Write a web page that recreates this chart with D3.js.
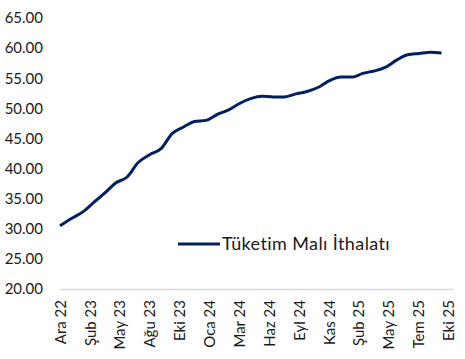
<!DOCTYPE html>
<html>
<head>
<meta charset="utf-8">
<script src="https://cdn.jsdelivr.net/npm/d3@7"></script>
<style>
  body { margin: 0; background: #fff; }
  text { font-family: Lato, "Open Sans", sans-serif; fill: #1a1a1a; }
</style>
</head>
<body>
<svg id="chart"></svg>
<script>
var width = 465,
    height = 359;

// Monthly series, Ara 22 .. Eki 25
var months = [
  'Ara 22', 'Oca 23', 'Şub 23', 'Mar 23', 'Nis 23', 'May 23', 'Haz 23', 'Tem 23', 'Ağu 23', 'Eyl 23',
  'Eki 23', 'Kas 23', 'Ara 23', 'Oca 24', 'Şub 24', 'Mar 24', 'Nis 24', 'May 24', 'Haz 24', 'Tem 24',
  'Ağu 24', 'Eyl 24', 'Eki 24', 'Kas 24', 'Ara 24', 'Oca 25', 'Şub 25', 'Mar 25', 'Nis 25', 'May 25',
  'Haz 25', 'Tem 25', 'Ağu 25', 'Eyl 25', 'Eki 25'
];
var values = [
  30.5, 31.7, 32.8, 34.3, 35.9, 37.6, 38.6, 41.0, 42.3, 43.3,
  45.8, 46.9, 47.8, 48.0, 49.0, 49.7, 50.8, 51.6, 52.0, 51.9,
  51.9, 52.4, 52.8, 53.5, 54.6, 55.2, 55.2, 55.8, 56.2, 56.8,
  58.0, 58.9, 59.1, 59.3, 59.2
];
var tickLabels = [
  'Ara 22', 'Şub 23', 'May 23', 'Ağu 23', 'Eki 23', 'Oca 24', 'Mar 24',
  'Haz 24', 'Eyl 24', 'Kas 24', 'Şub 25', 'May 25', 'Tem 25', 'Eki 25'
];
var yTicks = [20, 25, 30, 35, 40, 45, 50, 55, 60, 65];
var seriesName = 'Tüketim Malı İthalatı';

var start = new Date(Date.UTC(2022, 11, 1));
var data = values.map(function (v, i) {
  return { date: d3.utcMonth.offset(start, i), value: v, label: months[i] };
});

var svg = d3.select('#chart')
    .attr('width', width)
    .attr('height', height);

var x = d3.scaleUtc()
    .domain([start, d3.utcMonth.offset(start, months.length)])
    .range([60, 453]);

var y = d3.scaleLinear()
    .domain([20, 65])
    .range([289, 18]);

// Excel date axis: a label every 81 days
var tickDates = tickLabels.map(function (d, i) { return d3.utcDay.offset(start, i * 81); });

// Y axis labels
var yAxis = svg.append('g')
    .attr('transform', 'translate(43,0)')
    .call(d3.axisLeft(y).tickValues(yTicks).tickSize(0).tickPadding(0)
        .tickFormat(function (d) { return d3.format('.2f')(d); }));
yAxis.select('.domain').remove();
yAxis.selectAll('text').style('font-size', '15px').attr('fill', '#1a1a1a');

// X axis
var xAxis = svg.append('g')
    .attr('transform', 'translate(0,' + y(20) + ')')
    .call(d3.axisBottom(x).tickValues(tickDates).tickSize(0)
        .tickFormat(function (d, i) { return tickLabels[i]; }));
xAxis.select('.domain')
    .attr('stroke', '#d9d9d9')
    .attr('stroke-width', 1.5);
xAxis.selectAll('text')
    .style('font-size', '15px')
    .attr('fill', '#1a1a1a')
    .attr('text-anchor', 'end')
    .attr('transform', 'rotate(-90)')
    .attr('x', -11)
    .attr('y', 0)
    .attr('dy', '0.35em');

// Line
var line = d3.line()
    .x(function (d) { return x(d.date); })
    .y(function (d) { return y(d.value); })
    .curve(d3.curveMonotoneX);

svg.append('path')
    .datum(data)
    .attr('d', line)
    .attr('fill', 'none')
    .attr('stroke', '#002060')
    .attr('stroke-width', 3)
    .attr('stroke-linejoin', 'round');

// Legend
var legend = svg.append('g').attr('transform', 'translate(178,244)');
legend.append('line')
    .attr('x1', 0).attr('x2', 42)
    .attr('y1', 0).attr('y2', 0)
    .attr('stroke', '#002060')
    .attr('stroke-width', 3);
legend.append('text')
    .attr('x', 44)
    .attr('y', 0)
    .attr('dy', '0.35em')
    .style('font-size', '18px')
    .style('letter-spacing', '0.4px')
    .text(seriesName);
</script>
</body>
</html>
